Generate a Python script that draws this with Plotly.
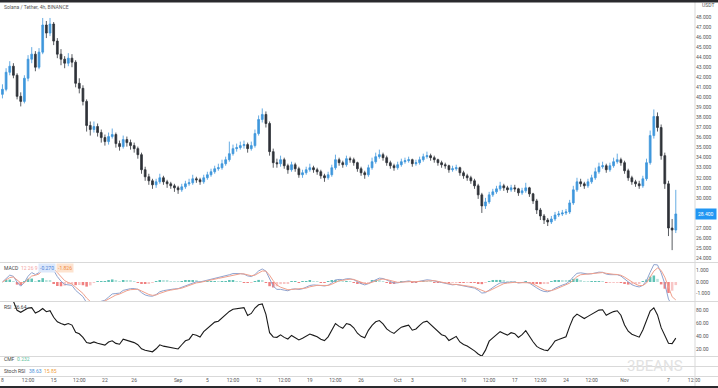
import pandas as pd
import plotly.graph_objects as go

# ---------------- data (12h bars) ----------------
closes = [40.8, 42.5, 43.1, 42.2, 40.1, 39.6, 41.9, 43.8, 44.3, 43.0,
          44.5, 47.2, 46.4, 47.3, 45.6, 44.3, 43.8, 43.4, 43.9, 43.5,
          41.4, 40.9, 39.6, 37.2, 36.8, 37.1, 36.5, 36.0, 35.6, 36.1,
          36.3, 35.4, 35.1, 35.8, 35.5, 35.2, 34.9, 34.3, 32.8, 32.1,
          31.7, 31.3, 31.6, 32.0, 31.6, 31.4, 31.2, 31.0, 30.8, 31.1,
          31.4, 31.5, 31.9, 31.8, 31.6, 32.0, 32.3, 32.6, 32.9, 33.0,
          33.4, 33.8, 34.4, 34.9, 35.0, 35.2, 35.3, 34.9, 35.2, 36.4,
          37.8, 38.3, 37.4, 34.6, 33.5, 33.4, 33.8, 33.2, 32.8, 33.3,
          32.9, 32.3, 32.5, 32.8, 33.0, 32.8, 32.6, 32.2, 32.0, 32.3,
          33.0, 33.8, 33.5, 33.3, 33.9, 33.8, 33.5, 32.9, 32.5, 32.3,
          33.0, 33.6, 34.1, 34.3, 34.0, 33.5, 33.2, 33.0, 33.3, 33.6,
          33.7, 33.8, 33.4, 33.5, 33.8, 34.1, 34.2, 34.0, 33.8, 33.5,
          33.3, 33.2, 32.8, 32.9, 33.0, 32.5, 32.2, 32.0, 31.7, 31.2,
          30.3, 29.2, 29.6, 30.3, 30.6, 30.9, 31.2, 31.0, 30.8, 31.0,
          30.9, 30.5, 30.7, 31.0, 30.4, 29.7, 28.8, 28.2, 27.8, 27.6,
          27.9, 28.3, 28.4, 28.5, 28.6, 29.5, 30.8, 31.6, 31.4, 31.2,
          31.6, 32.0, 32.6, 33.1, 33.2, 32.8, 33.2, 33.6, 33.8, 33.5,
          32.7, 32.0, 31.6, 31.4, 31.2, 31.9, 33.5, 36.2, 38.1, 37.0,
          34.2, 31.4, 27.0, 26.8, 28.4]
highs = [41.3, 42.9, 43.6, 43.4, 42.4, 40.5, 42.2, 44.2, 45.0, 44.6,
         44.9, 47.9, 47.6, 47.9, 47.5, 45.9, 44.8, 44.1, 44.4, 44.3,
         43.7, 41.9, 41.2, 39.8, 37.6, 37.6, 37.4, 36.8, 36.3, 36.5,
         36.9, 36.5, 35.7, 36.2, 36.1, 35.8, 35.5, 35.1, 34.5, 33.1,
         32.4, 31.9, 31.9, 32.4, 32.2, 31.8, 31.6, 31.4, 31.2, 31.4,
         31.7, 31.9, 32.3, 32.1, 32.0, 32.3, 32.6, 32.9, 33.2, 33.4,
         33.8, 34.1, 35.6, 35.3, 35.4, 35.6, 35.7, 35.5, 35.6, 36.8,
         38.2, 38.9, 38.6, 37.6, 34.9, 33.9, 34.2, 34.0, 33.4, 33.6,
         33.5, 33.1, 32.8, 33.1, 33.4, 33.2, 33.0, 32.8, 32.4, 32.6,
         33.3, 34.3, 34.0, 33.7, 34.2, 34.1, 34.0, 33.6, 33.1, 32.7,
         33.3, 34.0, 34.5, 34.8, 34.5, 34.2, 33.7, 33.4, 33.6, 33.9,
         34.0, 34.1, 33.9, 33.8, 34.1, 34.4, 34.6, 34.4, 34.2, 33.9,
         33.7, 33.5, 33.3, 33.2, 33.3, 33.1, 32.7, 32.4, 32.2, 31.9,
         31.4, 30.5, 30.0, 30.6, 30.9, 31.2, 31.6, 31.4, 31.2, 31.3,
         31.3, 31.0, 31.0, 31.5, 31.1, 30.5, 29.9, 29.0, 28.4, 28.0,
         28.2, 28.6, 28.7, 28.8, 28.9, 29.8, 31.2, 32.0, 31.9, 31.6,
         31.9, 32.3, 33.0, 33.5, 33.6, 33.4, 33.5, 34.0, 34.4, 34.0,
         33.7, 32.9, 32.2, 31.8, 31.7, 32.2, 33.9, 36.7, 38.8, 38.5,
         37.3, 34.5, 31.7, 27.9, 30.8]
lows = [39.9, 40.6, 42.2, 41.9, 39.8, 39.1, 39.4, 41.6, 43.4, 42.6,
        42.8, 44.3, 45.9, 46.1, 45.2, 43.9, 43.2, 42.9, 43.1, 43.0,
        41.0, 40.4, 39.2, 36.6, 36.2, 36.5, 36.1, 35.5, 35.2, 35.3,
        35.9, 35.0, 34.7, 34.9, 35.1, 34.8, 34.5, 33.9, 32.4, 31.7,
        31.3, 30.9, 31.0, 31.4, 31.3, 31.0, 30.9, 30.6, 30.4, 30.6,
        30.9, 31.2, 31.3, 31.5, 31.3, 31.4, 31.8, 32.1, 32.4, 32.7,
        32.8, 33.2, 33.6, 34.2, 34.6, 34.8, 34.9, 34.5, 34.7, 35.0,
        36.2, 37.5, 37.0, 34.2, 33.0, 33.0, 33.1, 32.9, 32.4, 32.6,
        32.6, 32.0, 32.0, 32.3, 32.6, 32.5, 32.3, 31.9, 31.6, 31.8,
        32.1, 32.8, 33.2, 33.0, 33.1, 33.5, 33.2, 32.6, 32.2, 31.9,
        32.1, 32.8, 33.4, 33.9, 33.7, 33.2, 32.9, 32.7, 32.8, 33.1,
        33.4, 33.5, 33.1, 33.2, 33.3, 33.6, 33.9, 33.7, 33.5, 33.2,
        33.0, 32.9, 32.5, 32.6, 32.7, 32.2, 31.9, 31.7, 31.4, 30.9,
        29.9, 28.5, 28.9, 29.4, 30.1, 30.4, 30.7, 30.7, 30.5, 30.6,
        30.6, 30.2, 30.3, 30.5, 30.1, 29.4, 28.4, 27.8, 27.4, 27.2,
        27.4, 27.7, 28.1, 28.2, 28.3, 28.4, 29.3, 30.6, 31.1, 30.9,
        31.0, 31.4, 31.8, 32.4, 32.9, 32.5, 32.6, 33.0, 33.4, 33.2,
        32.4, 31.7, 31.3, 31.1, 30.9, 31.0, 31.7, 33.3, 35.9, 36.6,
        33.8, 30.9, 26.2, 24.8, 26.5]
first_open = 40.3
bar_start = "2022-08-08 00:00"
bar_freq = "12h"

price_ticks = list(range(24, 49))
macd_ticks = [1, 0, -1]
rsi_ticks = [80, 60, 40, 20]

x_tick_dates = ["2022-08-08", "2022-08-11 12:00", "2022-08-15", "2022-08-18 12:00",
                "2022-08-22", "2022-08-26", "2022-09-01", "2022-09-05",
                "2022-09-08 12:00", "2022-09-12", "2022-09-15 12:00", "2022-09-19",
                "2022-09-22 12:00", "2022-09-26", "2022-10-01", "2022-10-03",
                "2022-10-10", "2022-10-13 12:00", "2022-10-17", "2022-10-20 12:00",
                "2022-10-24", "2022-10-27 12:00", "2022-11-01", "2022-11-07",
                "2022-11-10 12:00"]
x_tick_text = ["8", "12:00", "15", "12:00", "22", "26", "Sep", "5", "12:00", "12",
               "12:00", "19", "12:00", "26", "Oct", "3", "10", "12:00", "17", "12:00",
               "24", "12:00", "Nov", "7", "12:00"]

title_text = "Solana / Tether, 4h, BINANCE"
cmf_value = "0.232"
stoch_k, stoch_d = "38.63", "15.85"

# ---------------- derived ----------------
dates = pd.date_range(bar_start, periods=len(closes), freq=bar_freq)
opens = [first_open] + closes[:-1]
s = pd.Series(closes, dtype=float)
ema_f = s.ewm(span=4, adjust=False).mean()
ema_s = s.ewm(span=9, adjust=False).mean()
macd = ema_f - ema_s
sig = macd.ewm(span=3, adjust=False).mean()
hist = macd - sig
hist_colors = []
for i, h in enumerate(hist):
    prev = hist.iloc[i - 1] if i > 0 else 0
    if h >= 0:
        hist_colors.append("#5fc2b5" if h >= prev else "#b9e3dd")
    else:
        hist_colors.append("#f08080" if h <= prev else "#f8c6c6")
delta = s.diff()
gain = delta.clip(lower=0)
loss = -delta.clip(upper=0)
ag = gain.ewm(alpha=1 / 9, adjust=False).mean()
al = loss.ewm(alpha=1 / 9, adjust=False).mean()
rsi = 100 - 100 / (1 + ag / al)

# ---------------- figure ----------------
W, H = 718, 388
ML, MR, MT, MB = 0, 23, 3, 12
plot_h = H - MT - MB
def py(p):  # pixel row -> paper y
    return (H - MB - p) / plot_h
def px(p):
    return (p - ML) / (W - ML - MR)

up_c, dn_c = "#3f97dc", "#2f3238"
fig = go.Figure()
fig.add_trace(go.Candlestick(
    x=dates, open=opens, high=highs, low=lows, close=closes,
    xaxis="x", yaxis="y", whiskerwidth=0,
    increasing=dict(line=dict(color=up_c, width=0.8), fillcolor=up_c),
    decreasing=dict(line=dict(color=dn_c, width=0.8), fillcolor=dn_c),
    showlegend=False, hoverinfo="skip"))
fig.add_trace(go.Bar(x=dates, y=hist, marker_color=hist_colors, marker_line_width=0,
                     xaxis="x2", yaxis="y2", showlegend=False))
fig.add_trace(go.Scatter(x=dates, y=macd, mode="lines", line=dict(color="#8fa3cf", width=1),
                         xaxis="x2", yaxis="y2", showlegend=False))
fig.add_trace(go.Scatter(x=dates, y=sig, mode="lines", line=dict(color="#f0a08c", width=1),
                         xaxis="x2", yaxis="y2", showlegend=False))
fig.add_trace(go.Scatter(x=dates, y=rsi, mode="lines", line=dict(color="#1a1a1a", width=1.1),
                         xaxis="x3", yaxis="y3", showlegend=False))
fig.add_trace(go.Scatter(x=[dates[0]], y=[None], xaxis="x4", yaxis="y4", showlegend=False))
fig.add_trace(go.Scatter(x=[dates[0]], y=[None], xaxis="x5", yaxis="y5", showlegend=False))

xr = ["2022-08-07 16:00", "2022-11-10 15:00"]
tickfont = dict(family="Roboto", size=5, color="#555")
common_x = dict(range=xr, showgrid=False, zeroline=False, showline=False, type="date")
doms = {
    "": (py(262), py(3)),
    "2": (py(301), py(263)),
    "3": (py(356), py(302)),
    "4": (py(366), py(357)),
    "5": (0.0, py(367)),
}
layout = dict(width=W, height=H, margin=dict(l=ML, r=MR, t=MT, b=MB),
              paper_bgcolor="white", plot_bgcolor="white", bargap=0.3,
              font=dict(family="Roboto", size=5, color="#555"))
for k, dom in doms.items():
    xa = dict(common_x, anchor="y" + k, showticklabels=(k == "5"))
    if k:
        xa["matches"] = "x"
    if k == "5":
        xa.update(tickmode="array", tickvals=x_tick_dates, ticktext=x_tick_text,
                  tickfont=tickfont, ticks="", ticklen=0)
    layout["xaxis" + k] = xa
    layout["yaxis" + k] = dict(domain=list(dom), anchor="x" + k, side="right",
                               showgrid=False, zeroline=False, showline=False,
                               tickfont=tickfont, ticks="")
layout["xaxis"]["rangeslider"] = dict(visible=False)
last = closes[-1]
layout["yaxis"].update(range=[23.62, 49.39], tickmode="array", tickvals=price_ticks,
                       ticktext=[("" if abs(v - last) < 0.8 else f"{v:.3f}") for v in price_ticks])
layout["yaxis2"].update(range=[-1.65, 1.65], tickmode="array", tickvals=macd_ticks,
                        ticktext=[f"{v:.3f}" for v in macd_ticks])
layout["yaxis3"].update(range=[9.2, 92.3], tickmode="array", tickvals=rsi_ticks,
                        ticktext=[f"{v:.2f}" for v in rsi_ticks])
layout["yaxis4"].update(range=[-1, 1], showticklabels=False)
layout["yaxis5"].update(range=[0, 100], showticklabels=False)

shapes = []
sep_c = "#d9d9d9"
for p in [262.5, 301.5, 356.5, 366.5, 376.5]:
    shapes.append(dict(type="line", xref="paper", yref="paper", x0=0, x1=W / (W - MR),
                       y0=py(p), y1=py(p), line=dict(color=sep_c, width=1)))
shapes.append(dict(type="line", xref="paper", yref="paper", x0=1, x1=1,
                   y0=py(386), y1=py(2), line=dict(color=sep_c, width=1)))
shapes.append(dict(type="rect", xref="paper", yref="paper", x0=0, x1=W / (W - MR),
                   y0=py(2.5), y1=py(0), fillcolor="#2a2a2e", line=dict(width=0)))
shapes.append(dict(type="rect", xref="paper", yref="paper", x0=0, x1=W / (W - MR),
                   y0=py(388), y1=py(386), fillcolor="#2a2a2e", line=dict(width=0)))
layout["shapes"] = shapes

ann = []
def txt(x, y, t, color="#444", size=5, xanchor="left", **kw):
    ann.append(dict(x=px(x), y=py(y), xref="paper", yref="paper", text=t, showarrow=False,
                    xanchor=xanchor, yanchor="middle", font=dict(size=size, color=color,
                    family="Roboto"), **kw))
txt(2, 7, title_text, "#555")
txt(700, 5, "USDT", "#555")
txt(2, 268, "MACD", "#444")
txt(19, 268, "12 26 9", "#f3a4a4")
txt(38, 268, f"{hist.iloc[-1]:.3f}", "#4a7fd8", bgcolor="#dce8fb")
txt(56, 268, f"{macd.iloc[-1]:.3f}", "#f08a3c", bgcolor="#fde3cf")
txt(2, 307, f"RSI  {rsi.iloc[-1]:.2f}", "#444")
txt(2, 359, "CMF", "#444")
txt(15, 359, cmf_value, "#5fc2a0")
txt(2, 371, "Stoch RSI", "#444")
txt(27, 371, stoch_k, "#4a90d9")
txt(42, 371, stoch_d, "#f0a040")
txt(655, 366, "3BEANS", "#e2e2e2", size=15, xanchor="center")
ann.append(dict(x=1.0, y=last, xref="paper", yref="y", text=f"{last:.3f}",
                showarrow=False, xanchor="left", yanchor="middle", bgcolor="#2196F3",
                font=dict(size=5, color="white", family="Roboto"), borderpad=2))
layout["annotations"] = ann

fig.update_layout(**layout)
fig.write_html("out.html")
